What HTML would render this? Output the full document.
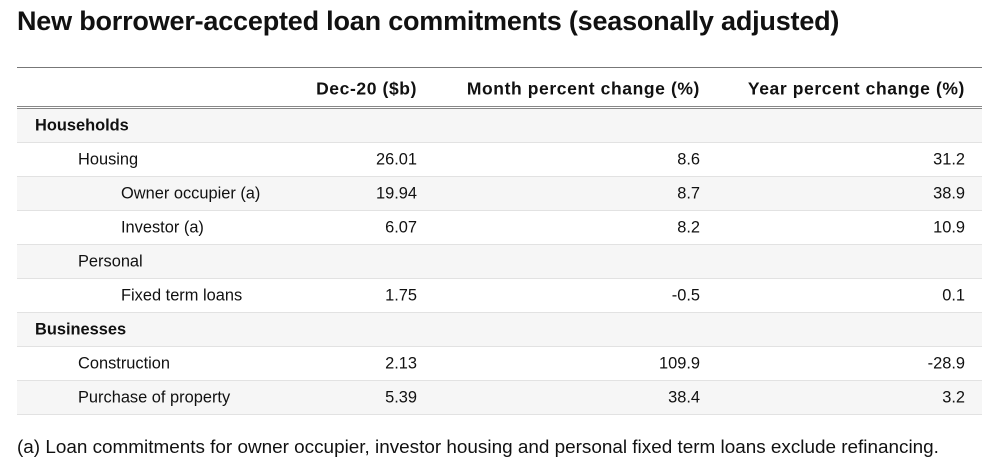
<!DOCTYPE html>
<html><head><style>
body{margin:0;width:1000px;height:476px;background:#fff;font-family:"Liberation Sans",sans-serif;color:#111;position:relative;overflow:hidden}
.t{position:absolute;left:17px;top:6px;font-size:27px;font-weight:bold;letter-spacing:-0.2px}
.tb{position:absolute;left:17px;top:67px;width:965px;border-top:1.5px solid #777}
.hd{height:38px;border-bottom:3px double #888;position:relative;font-size:17.5px;font-weight:bold;letter-spacing:0.6px}
.hd .c{top:56%}
.r{height:33px;border-bottom:1px solid #e2e2e2;position:relative;font-size:16.4px}
.g{background:#f6f6f6}
.c{position:absolute;top:50%;transform:translateY(-50%);white-space:nowrap}
.a{right:565px}.b{right:282px}.d{right:17px}
.f{position:absolute;left:17px;top:437px;font-size:18.9px}
</style></head><body>
<div class="t">New borrower-accepted loan commitments (seasonally adjusted)</div>
<div class="tb">
<div class="hd"><span class="c a">Dec-20 ($b)</span><span class="c b">Month percent change (%)</span><span class="c d">Year percent change (%)</span></div>
<div class="r g"><span class="c" style="left:18px;font-weight:bold">Households</span></div>
<div class="r"><span class="c" style="left:61px">Housing</span><span class="c a">26.01</span><span class="c b">8.6</span><span class="c d">31.2</span></div>
<div class="r g"><span class="c" style="left:104px">Owner occupier (a)</span><span class="c a">19.94</span><span class="c b">8.7</span><span class="c d">38.9</span></div>
<div class="r"><span class="c" style="left:104px">Investor (a)</span><span class="c a">6.07</span><span class="c b">8.2</span><span class="c d">10.9</span></div>
<div class="r g"><span class="c" style="left:61px">Personal</span></div>
<div class="r"><span class="c" style="left:104px">Fixed term loans</span><span class="c a">1.75</span><span class="c b">-0.5</span><span class="c d">0.1</span></div>
<div class="r g"><span class="c" style="left:18px;font-weight:bold">Businesses</span></div>
<div class="r"><span class="c" style="left:61px">Construction</span><span class="c a">2.13</span><span class="c b">109.9</span><span class="c d">-28.9</span></div>
<div class="r g"><span class="c" style="left:61px">Purchase of property</span><span class="c a">5.39</span><span class="c b">38.4</span><span class="c d">3.2</span></div>
</div>
<div class="f">(a) Loan commitments for owner occupier, investor housing and personal fixed term loans exclude refinancing.</div>
</body></html>
